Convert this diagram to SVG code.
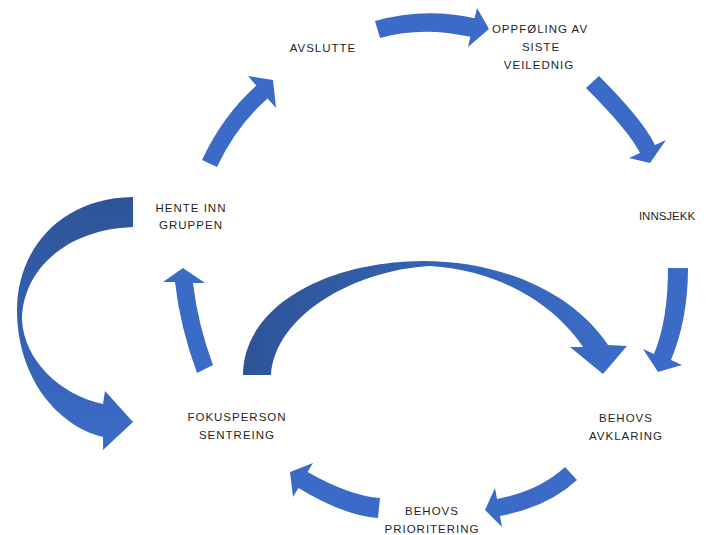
<svg xmlns="http://www.w3.org/2000/svg" width="707" height="535" viewBox="0 0 707 535">
  <style>
    .lbl { font-family: "Liberation Sans", Arial, sans-serif; font-size: 11.5px; letter-spacing: 1px; fill: #1f1f1f; text-anchor: middle; }
    .arr { fill: #3B6BC6; }
  </style>
  <defs>
    <linearGradient id="gLeft" x1="0" y1="0" x2="0" y2="1">
      <stop offset="0" stop-color="#2E5497"/>
      <stop offset="0.5" stop-color="#3360B0"/>
      <stop offset="1" stop-color="#3B6CC8"/>
    </linearGradient>
    <linearGradient id="gMid" x1="0" y1="0" x2="1" y2="0">
      <stop offset="0" stop-color="#2E5497"/>
      <stop offset="0.5" stop-color="#3462B4"/>
      <stop offset="1" stop-color="#3B6CC8"/>
    </linearGradient>
  </defs>
  <rect width="707" height="535" fill="#ffffff"/>

  <g id="connectors">
    <!-- AVSLUTTE -> OPPFOLING -->
    <path class="arr" d="M375,21 Q424,7 474.6,18.2 L477,8 L489,29 L468,47 L470.4,36.8 Q422,26 380,38 Z"/>
    <!-- OPPFOLING -> INNSJEKK -->
    <path class="arr" d="M599,76 Q643,120 655,145 L666,140 L650,163 L629,158 L640,153 Q629,131 586,88 Z"/>
    <!-- INNSJEKK -> BEHOVS AVKLARING -->
    <path class="arr" d="M668,268 L688,268 Q688,319 671,360 L682,365 L658,372 L643,349 L654,354 Q668,320 668,268 Z"/>
    <!-- BEHOVS AVKLARING -> BEHOVS PRIORITERING -->
    <path class="arr" d="M565,467 Q539,491 497,499 L495,488 L485,510 L502,527 L500,516 Q548,507 577,480 Z"/>
    <!-- BEHOVS PRIORITERING -> FOKUSPERSON -->
    <path class="arr" d="M380,498 Q350,496 307.6,472 L313,463 L290,472 L293,497 L298.4,488 Q345,516 378,518 Z"/>
    <!-- FOKUSPERSON -> HENTE INN -->
    <path class="arr" d="M197,373 Q180,327 175,282 L163,282 L183,268 L205,283 L193,283 Q198,325 213,365 Z"/>
    <!-- HENTE INN -> AVSLUTTE -->
    <path class="arr" d="M202,160 Q223,115 256.4,85.6 L248,76 L273,80 L276,108 L267.6,98.4 Q236,126 217,167 Z"/>
    <!-- HENTE INN -> FOKUSPERSON (big left curve) -->
    <path fill="url(#gLeft)" d="M133,197 C60,198 17,250 17,310 C17,375 55,425 103,437 L103,450 L133,422 L105,391 L103,404 C60,395 24,360 22,320 C22,275 60,230 133,227 Z"/>
    <!-- FOKUSPERSON -> BEHOVS AVKLARING (big top curve) -->
    <path fill="url(#gMid)" d="M243,375 C243,310 320,262 423,261 C505,261 575,295 608,345 L627,346 L603,374 L570,347 L583,347 C555,305 500,270 430,266 C355,270 275,315 271,375 Z"/>
  </g>

  <g id="avslutte">
    <text class="lbl" x="323" y="52">AVSLUTTE</text>
  </g>
  <g id="oppfolging">
    <text class="lbl" x="540" y="33">OPPFØLING AV</text>
    <text class="lbl" x="541" y="51">SISTE</text>
    <text class="lbl" x="539" y="69">VEILEDNIG</text>
  </g>
  <g id="innsjekk">
    <text class="lbl" x="667" y="220" style="letter-spacing:0">INNSJEKK</text>
  </g>
  <g id="behovs-avklaring">
    <text class="lbl" x="626" y="422">BEHOVS</text>
    <text class="lbl" x="626" y="440">AVKLARING</text>
  </g>
  <g id="behovs-prioritering">
    <text class="lbl" x="432" y="515">BEHOVS</text>
    <text class="lbl" x="432" y="533">PRIORITERING</text>
  </g>
  <g id="fokusperson">
    <text class="lbl" x="237" y="421">FOKUSPERSON</text>
    <text class="lbl" x="237" y="439">SENTREING</text>
  </g>
  <g id="hente-inn">
    <text class="lbl" x="191" y="212">HENTE INN</text>
    <text class="lbl" x="191" y="229">GRUPPEN</text>
  </g>
</svg>
